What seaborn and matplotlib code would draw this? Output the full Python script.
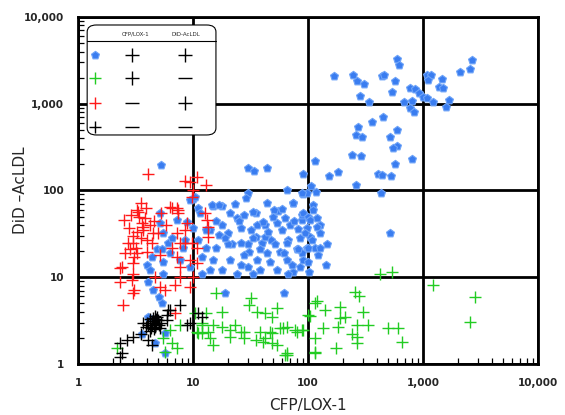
import pandas as pd
import seaborn as sns
import matplotlib.pyplot as plt
from matplotlib.patches import FancyBboxPatch
from matplotlib.ticker import FuncFormatter, LogLocator

sns.set_theme(style="white")
plt.rcParams['font.family'] = ['DejaVu Sans']

# CFP/LOX-1 (x) and DiD-AcLDL (y) intensities
blue_x = [168, 246, 267, 306, 438, 457, 594, 620, 570, 537, 283, 338, 770, 850, 922, 1000, 1080, 684, 800, 770,
          830, 1080, 1170, 1100, 1480, 1380, 1510, 1230, 1690, 1590, 2090, 2570, 2690, 360, 447, 272, 262, 295, 594, 516,
          594, 550,
          115, 90, 152, 182, 240, 290, 262, 407, 438, 527, 570, 800, 430, 107, 118, 66, 90, 74, 110, 90,
          89, 127, 516, 147, 144, 102, 89, 98, 104, 120, 127, 98, 115, 122, 89, 108,
          30, 98, 11, 15, 18, 23, 28, 35, 44, 55, 74, 90, 100, 18, 24, 26, 36, 42, 54, 82,
          94, 14, 20, 35, 40, 48, 67, 16, 22, 30, 31, 44, 57, 80, 100, 12, 15, 21, 26, 36,
          47, 66, 90, 14, 18, 30, 38, 54, 74, 100,
          5.3, 30, 34, 44, 89, 10, 14.6, 16.8, 29, 33, 51, 59, 5.2, 7.3, 11.5, 41, 70, 104, 10, 13,
          17, 20, 26, 33, 42, 66, 82, 127, 5.5, 6.1, 4.9, 6.3, 8.2, 4.4, 5.5, 7.7, 9.4, 4.0, 4.2, 5.5,
          12, 24, 33, 67, 4.06, 4.5, 5.1, 5.4, 19, 62, 4.06, 4.7, 5.7, 5.7, 3.6,
          5.2, 8.9, 9.4, 10.4, 8.5, 6.6, 5.4,
          25, 32, 45, 60, 75, 85, 28, 38, 52, 62, 72, 86, 19, 13, 11, 16, 21, 50, 63, 110, 120]
blue_y = [2090, 2140, 1820, 1690, 2090, 2140, 3300, 2800, 1820, 1365, 1230, 1050, 1515, 1480, 1320, 1200, 1170, 1050, 1070, 890,
          800, 2140, 2140, 1870, 1920, 1560, 1515, 1050, 1100, 920, 2340, 2500, 3180, 615, 705, 545, 436, 415, 500, 415,
          325, 310,
          218, 155, 147, 163, 257, 250, 116, 155, 151, 147, 203, 230, 93, 113, 96, 101, 91, 72, 68, 54,
          46, 40, 32, 24, 14, 11.5, 52, 37, 29, 38, 32, 22, 22, 18, 19, 27,
          93, 93, 63, 66, 66, 70, 52, 55, 72, 58, 72, 55, 49, 40, 48, 37, 40, 40, 42, 36,
          32, 35, 32, 29, 25, 27, 27, 22, 24, 24, 19.5, 19, 19.5, 21, 22, 17, 16, 16, 14, 16,
          15, 16, 16, 12, 12, 13, 12, 12, 11.5, 15,
          196, 182, 167, 182, 93, 80, 68, 68, 82, 57, 60, 61, 55, 46, 55, 43, 40, 46, 37, 35,
          31, 24, 25, 28, 29, 25, 21, 22, 32, 25, 21, 19, 22, 17, 15, 16, 13, 14, 12, 11,
          11, 11, 11, 11, 8.8, 7.1, 5.9, 5.0, 6.6, 6.6, 3.5, 1.75, 2.3, 1.34, 2.2,
          42, 43, 78, 84, 27, 28, 21,
          45, 35, 33, 35, 45, 28, 18, 21, 24, 19, 14, 13, 28, 22, 27, 45, 55, 50, 48, 60, 48]

green_x = [424, 537, 1230, 2830, 2570, 257, 277, 120, 141, 190, 300, 104, 190, 210, 330, 268, 182, 135, 61, 77,
           89, 500, 605, 115, 240, 268, 268, 660, 175, 115, 63,
           16, 32, 31, 18, 36, 42, 54, 49, 13, 100, 115, 12, 15, 18, 23, 21, 10.8, 12, 28,
           38, 47, 57, 66, 80, 90, 14, 21, 28, 35, 42, 15, 41, 49, 54, 66, 115,
           10.4, 7.7, 6.3, 5.5, 6.6, 5.7, 7.3, 2.2, 12, 13.5, 11, 26, 49, 66]
green_y = [10.9, 11.5, 8.1, 5.9, 3.05, 6.8, 6.1, 5.3, 4.2, 4.5, 4.0, 3.6, 3.4, 3.5, 2.8, 2.8, 2.7, 2.6, 2.6, 2.46,
           2.46, 2.6, 2.6, 2.0, 2.2, 2.05, 1.75, 1.8, 1.53, 1.34, 1.27,
           6.6, 5.8, 4.8, 4.0, 4.0, 3.9, 4.4, 3.5, 3.9, 3.7, 5.0, 3.0, 2.8, 2.7, 2.8, 2.46, 2.35, 2.3, 2.35,
           2.35, 2.35, 2.6, 2.7, 2.35, 2.46, 2.0, 2.05, 2.0, 1.9, 2.0, 1.65, 1.8, 1.75, 1.65, 1.27, 1.38,
           3.9, 2.8, 2.46, 2.0, 1.75, 1.38, 1.53, 1.53, 2.8, 2.35, 2.3, 2.35, 2.3, 1.34]

red_x = [4.06, 10.8, 9.4, 13, 10, 9.8, 3.5, 3.26, 5.3, 7.4, 6.6, 2.5, 3.6, 3.7, 2.8, 3.26, 4.5, 7.2, 8.5, 2.7,
         3.0, 4.0, 6.6, 8.5, 2.56, 3.1, 4.0, 7.2, 9.4, 2.4, 3.0, 7.7, 10.8,
         3.3, 6.3, 7.3, 7.4, 8.9, 12.7, 13.2, 13.5, 13.5, 3.7, 4.95, 4.4, 7.7, 9.8, 10.8, 2.83, 3.26, 5.2,
         2.3, 3.0, 4.7, 7.7, 10, 2.3, 2.95, 3.1, 3.0, 5.2, 5.7, 9.4, 2.46, 7.0, 7.0,
         3.4, 3.8, 4.2, 3.0, 3.5, 4.6, 3.2, 5.8, 2.9, 8.5, 3.9]
red_y = [155, 143, 126, 116, 101, 84, 72, 60, 55, 60, 63, 46, 42, 35, 37, 33, 32, 32, 35, 25,
         25, 27, 22, 25, 19, 17, 19.5, 17, 16, 13, 14.6, 13, 14.6,
         57, 64, 63, 55, 42, 55, 46, 38, 29, 38, 32, 25, 25, 25, 22, 21, 19, 18,
         12.8, 11, 10, 10, 10, 8.8, 9.3, 7.1, 6.6, 7.7, 7.1, 7.7, 4.8, 3.9, 8.1,
         50, 48, 40, 30, 28, 45, 22, 40, 52, 130, 62]

black_x = [6.3, 7.7, 5.9, 9.4, 11, 12, 8.9, 4.0, 4.2, 4.4, 4.6, 4.8, 5.0, 4.3, 4.7, 5.1, 4.5, 4.9, 4.1, 5.3,
           4.6, 4.4, 4.8, 5.2, 3.9, 4.2, 4.7, 3.7, 3.5, 2.66, 3.0, 2.3, 4.06, 4.4, 2.4, 5.9, 6.1, 2.3]
black_y = [4.2, 4.8, 3.7, 3.0, 3.9, 3.5, 2.8, 3.0, 3.3, 2.8, 3.1, 2.9, 3.2, 2.6, 2.7, 2.8, 3.4, 3.5, 2.8, 3.0,
           2.5, 3.1, 3.3, 2.6, 2.7, 2.4, 3.6, 3.0, 2.2, 1.9, 2.05, 1.75, 1.9, 1.65, 1.34, 3.2, 4.2, 1.2]

# legend rows: (CFP/LOX-1, DiD-AcLDL)
legend_signs = [("+", "+"), ("+", "-"), ("-", "+"), ("-", "-")]
legend_colors = ["#3a7df0", "#22cc22", "#ff1a1a", "black"]

blue = pd.DataFrame({"x": blue_x, "y": blue_y})
green = pd.DataFrame({"x": green_x, "y": green_y})
red = pd.DataFrame({"x": red_x, "y": red_y})
black = pd.DataFrame({"x": black_x, "y": black_y})

fig = plt.figure(figsize=(5.65, 4.15), dpi=100)
ax = fig.add_axes([0.138, 0.123, 0.814, 0.836])

sns.scatterplot(data=blue, x="x", y="y", ax=ax, marker="p", s=36, color="#3a7df0",
                edgecolor="#6fa4f8", linewidth=0.8, zorder=3)
sns.scatterplot(data=green, x="x", y="y", ax=ax, marker="+", s=75, color="#22cc22",
                linewidth=1.0, zorder=4)
sns.scatterplot(data=red, x="x", y="y", ax=ax, marker="+", s=75, color="#ff1a1a",
                linewidth=1.0, zorder=4)
sns.scatterplot(data=black, x="x", y="y", ax=ax, marker="+", s=75, color="black",
                linewidth=1.0, zorder=5)

ax.set_xscale("log")
ax.set_yscale("log")
ax.set_xlim(1, 10000)
ax.set_ylim(1, 10000)

fmt = FuncFormatter(lambda v, p: "{:,}".format(int(round(v))))
for axis in (ax.xaxis, ax.yaxis):
    axis.set_major_locator(LogLocator(base=10, numticks=10))
    axis.set_minor_locator(LogLocator(base=10, subs=range(2, 10), numticks=10))
    axis.set_major_formatter(fmt)
ax.grid(True, which="major", color="black", linewidth=2, zorder=1)
ax.set_axisbelow(True)
ax.tick_params(which="major", length=0, pad=10, labelsize=7.5)
ax.tick_params(which="minor", direction="in", length=4, width=0.9, color="black",
               bottom=True, left=True)
for lab in ax.get_xticklabels() + ax.get_yticklabels():
    lab.set_fontweight("bold")
for sp in ax.spines.values():
    sp.set_linewidth(2)
    sp.set_color("black")

ax.set_xlabel("CFP/LOX-1", fontsize=11, labelpad=7)
ax.set_ylabel("DiD \u2013AcLDL", fontsize=11, labelpad=-3)

# table-like legend in the upper left
box = FancyBboxPatch((0.02, 0.66), 0.28, 0.317, boxstyle="round,pad=0,rounding_size=0.02",
                     transform=ax.transAxes, facecolor="white", edgecolor="black",
                     linewidth=0.8, zorder=10)
ax.add_patch(box)
ax.plot([0.02, 0.30], [0.93, 0.93], transform=ax.transAxes, color="black", lw=0.8, zorder=11)
ax.text(0.125, 0.95, "CFP/LOX-1", transform=ax.transAxes, fontsize=4, ha="center",
        va="center", zorder=11)
ax.text(0.235, 0.95, "DiD-AcLDL", transform=ax.transAxes, fontsize=4, ha="center",
        va="center", zorder=11)
row_y = [0.89, 0.824, 0.752, 0.683]
for (s1, s2), c, yy in zip(legend_signs, legend_colors, row_y):
    if c == "#3a7df0":
        ax.scatter([0.036], [yy], transform=ax.transAxes, marker="p", s=36, color=c,
                   edgecolor="#6fa4f8", linewidths=0.8, zorder=12)
    else:
        ax.scatter([0.036], [yy], transform=ax.transAxes, marker="+", s=75, color=c,
                   linewidths=1.0, zorder=12)
    for xx, s in ((0.117, s1), (0.232, s2)):
        m = "+" if s == "+" else "_"
        ax.scatter([xx], [yy], transform=ax.transAxes, marker=m, s=110, color="black",
                   linewidths=1.0, zorder=12)

fig.savefig("out.png", dpi=100)
